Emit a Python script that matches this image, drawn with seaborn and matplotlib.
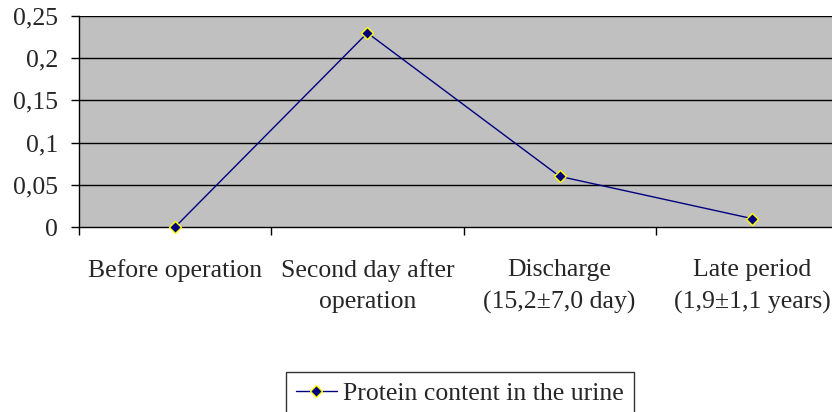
import matplotlib
matplotlib.use("Agg")
import matplotlib.pyplot as plt
import numpy as np
import pandas as pd
import seaborn as sns

# data
categories = ["Before operation", "Second day after\noperation",
              "Discharge\n(15,2\u00b17,0 day)", "Late period\n(1,9\u00b11,1 years)"]
protein = [0.0, 0.23, 0.06, 0.01]
y_ticks = [0, 0.05, 0.1, 0.15, 0.2, 0.25]
y_tick_labels = ["0", "0,05", "0,1", "0,15", "0,2", "0,25"]
series_name = "Protein content in the urine"

df = pd.DataFrame({"x": np.arange(len(categories)), "y": protein,
                   "series": series_name})

sns.set_theme(style="white")
plt.rcParams["font.family"] = ["Liberation Serif", "DejaVu Serif"]

FS = 18.5

fig = plt.figure(figsize=(8.32, 4.12), dpi=100)
ax = fig.add_axes([79 / 832, 1 - 227 / 412, (848 - 79) / 832, (227 - 16) / 412])
ax.set_facecolor("#C0C0C0")

sns.lineplot(data=df, x="x", y="y", hue="series", palette=["#000080"],
             marker="D", markersize=6, markerfacecolor="#000080",
             markeredgecolor="#FFFF00", markeredgewidth=1.0,
             linewidth=1.0, ax=ax, legend=True, clip_on=False, zorder=5)

ax.set_xlim(-0.5, len(categories) - 0.5)
ax.set_ylim(0, 0.25)
ax.set_yticks(y_ticks)
ax.set_yticklabels(y_tick_labels, fontsize=FS)
ax.set_xticks(np.arange(len(categories)))
ax.set_xticklabels(categories, fontsize=FS, linespacing=1.55)
ax.set_xticks(np.arange(len(categories) + 1) - 0.5, minor=True)
ax.tick_params(axis="x", which="major", bottom=True, length=0, pad=23)
ax.tick_params(axis="x", which="minor", bottom=True, length=6, width=1,
               color="black", direction="out")
ax.tick_params(axis="y", left=True, length=6, width=1, color="black",
               direction="out", pad=9)
ax.set_xlabel("")
ax.set_ylabel("")

for v in y_ticks[1:]:
    ax.axhline(v, color="black", linewidth=1, zorder=0.5)

for side in ["top", "right"]:
    ax.spines[side].set_visible(False)
ax.spines["left"].set_color("black")
ax.spines["bottom"].set_color("black")
ax.spines["left"].set_linewidth(1)
ax.spines["bottom"].set_linewidth(1)

handles, labels = ax.get_legend_handles_labels()
leg = ax.legend(handles, labels, loc="upper center",
                bbox_to_anchor=(460 / 832, 1 - 372 / 412),
                bbox_transform=fig.transFigure, fontsize=FS, frameon=True,
                fancybox=False, edgecolor="black", borderpad=0.4,
                borderaxespad=0, handlelength=1.6, handletextpad=0.25)
leg.get_frame().set_linewidth(1)

fig.savefig("out.png", dpi=100)
